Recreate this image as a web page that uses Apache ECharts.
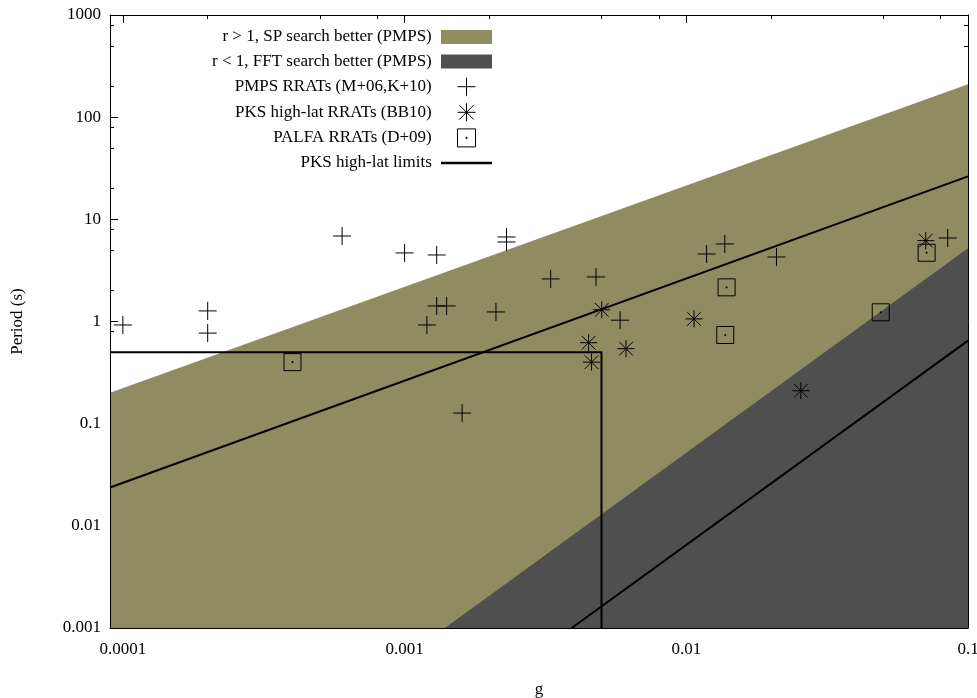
<!DOCTYPE html>
<html>
<head>
<meta charset="utf-8">
<script src="https://cdn.jsdelivr.net/npm/echarts@6/dist/echarts.min.js"></script>
<style>html,body{margin:0;padding:0;background:#fff}#c{width:977px;height:698px}</style>
</head>
<body>
<div id="c"></div>
<script>
// ---- data ----
const pmpsG = [1.0e-4, 2.0e-4, 2.0e-4, 6.0e-4, 1.0e-3, 1.30e-3, 1.30e-3, 1.41e-3, 1.20e-3, 1.60e-3, 2.11e-3, 2.30e-3, 2.30e-3, 3.30e-3, 4.78e-3, 5.82e-3, 1.18e-2, 1.37e-2, 2.09e-2, 8.47e-2];
const pmpsP = [0.925, 1.27, 0.77, 6.87, 4.69, 4.48, 1.42, 1.42, 0.925, 0.127, 1.24, 6.72, 6.0, 2.61, 2.73, 1.03, 4.58, 5.74, 4.28, 6.57];
const pksG = [5.01e-3, 4.50e-3, 4.61e-3, 6.11e-3, 1.065e-2, 2.55e-2, 7.08e-2];
const pksP = [1.30, 0.62, 0.40, 0.542, 1.06, 0.21, 6.19];
const palfaG = [4.0e-4, 1.39e-2, 1.375e-2, 4.90e-2, 7.13e-2];
const palfaP = [0.40, 2.16, 0.738, 1.23, 4.71];
// shaded regions (upper boundaries)
const spG = [9e-5, 0.1];
const spP = [0.201, 210];
const fftG = [1.39e-3, 0.1];
const fftP = [0.001, 5.2];
// PKS high-lat limits
const limAG = [9e-5, 0.1];
const limAP = [0.0237, 26.3];
const limBG = [3.92e-3, 0.1];
const limBP = [0.001, 0.65];
const limCG = [9e-5, 0.005, 0.005];
const limCP = [0.5, 0.5, 0.001];
// ticks
const xMajor = [1e-4, 1e-3, 1e-2, 1e-1];
const xMajorLabels = ['0.0001', '0.001', '0.01', '0.1'];
const xMinor = [2e-4, 5e-4, 8e-4, 2e-3, 5e-3, 8e-3, 2e-2, 5e-2, 8e-2];
const yMajor = [1e-3, 1e-2, 1e-1, 1, 10, 100, 1000];
const yMajorLabels = ['0.001', '0.01', '0.1', '1', '10', '100', '1000'];
const yMinor = [2e-3, 5e-3, 8e-3, 2e-2, 5e-2, 8e-2, 0.2, 0.5, 0.8, 2, 5, 8, 20, 50, 80, 200, 500, 800];

const names = {
  sp: 'r > 1, SP search better (PMPS)',
  fft: 'r < 1, FFT search better (PMPS)',
  pmps: 'PMPS RRATs (M+06,K+10)',
  pks: 'PKS high-lat RRATs (BB10)',
  palfa: 'PALFA RRATs (D+09)',
  lim: 'PKS high-lat limits'
};

const FONT = 'Liberation Serif';
const OLIVE = '#8f8c62';
const DARK = '#4f4f4f';
const CROSS = 'path://M0,9H18M9,0V18';
const STAR = 'path://M0,8.5H17M8.5,0V17M1.7,1.7L15.3,15.3M1.7,15.3L15.3,1.7';
const SQUARE = 'path://M0,0H17V17H0ZM8,8H9V9H8Z';

const zip = (a, b) => a.map((v, i) => [v, b[i]]);

function lookup(vals, labels) {
  return v => { for (let i = 0; i < vals.length; i++) { if (Math.abs(Math.log10(v) - Math.log10(vals[i])) < 1e-6) return labels[i]; } return ''; };
}

const XMIN = 9e-5, XMAX = 0.1, YMIN = 0.001, YMAX = 1000;
const black = '#000';

function xAx(pos, opts) {
  return Object.assign({
    type: 'log', min: XMIN, max: XMAX, position: pos, logBase: 10,
    axisLine: { show: false }, axisTick: { show: false }, axisLabel: { show: false },
    splitLine: { show: false }, minorTick: { show: false }, minorSplitLine: { show: false }, z: 0
  }, opts);
}
function yAx(pos, opts) {
  return Object.assign({
    type: 'log', min: YMIN, max: YMAX, position: pos, logBase: 10,
    axisLine: { show: false }, axisTick: { show: false }, axisLabel: { show: false },
    splitLine: { show: false }, minorTick: { show: false }, minorSplitLine: { show: false }, z: 0
  }, opts);
}
const lineFrame = { show: true, lineStyle: { color: black, width: 1 } };

const option = {
  animation: false,
  backgroundColor: '#fff',
  grid: { left: 110, right: 9, top: 15, bottom: 70, containLabel: false, outerBoundsMode: 'none' },
  xAxis: [
    xAx('bottom', {
      axisLine: lineFrame, z: 5,
      name: 'g', nameLocation: 'middle', nameGap: 53,
      nameTextStyle: { fontFamily: FONT, fontSize: 17, color: black },
      axisLabel: { show: true, customValues: xMajor, formatter: lookup(xMajor, xMajorLabels), fontFamily: FONT, fontSize: 17, color: black, margin: 13 }
    }),
    xAx('top', { axisLine: lineFrame, z: 5 }),
    xAx('bottom', { axisTick: { show: true, inside: true, length: 8, customValues: xMajor, lineStyle: { color: black } } }),
    xAx('bottom', { axisTick: { show: true, inside: true, length: 4, customValues: xMinor, lineStyle: { color: black } } }),
    xAx('top', { axisTick: { show: true, inside: true, length: 8, customValues: xMajor, lineStyle: { color: black } } }),
    xAx('top', { axisTick: { show: true, inside: true, length: 4, customValues: xMinor, lineStyle: { color: black } } })
  ],
  yAxis: [
    yAx('left', {
      axisLine: lineFrame, z: 5,
      name: 'Period (s)', nameLocation: 'middle', nameGap: 84, nameRotate: 90,
      nameTextStyle: { fontFamily: FONT, fontSize: 17, color: black },
      axisLabel: { show: true, customValues: yMajor, formatter: lookup(yMajor, yMajorLabels), fontFamily: FONT, fontSize: 17, color: black, margin: 9 }
    }),
    yAx('right', { axisLine: lineFrame, z: 5 }),
    yAx('left', { axisTick: { show: true, inside: true, length: 8, customValues: yMajor, lineStyle: { color: black } } }),
    yAx('left', { axisTick: { show: true, inside: true, length: 4, customValues: yMinor, lineStyle: { color: black } } }),
    yAx('right', { axisTick: { show: true, inside: true, length: 8, customValues: yMajor, lineStyle: { color: black } } }),
    yAx('right', { axisTick: { show: true, inside: true, length: 4, customValues: yMinor, lineStyle: { color: black } } })
  ],
  legend: {
    orient: 'vertical', align: 'right', right: 485, top: 28, padding: 0,
    itemWidth: 51, itemHeight: 18, itemGap: 6.6, selectedMode: false, symbolKeepAspect: true,
    formatter: n => n + ' ',
    textStyle: { fontFamily: FONT, fontSize: 17, color: black, lineHeight: 18 },
    data: [
      { name: names.sp, icon: 'path://M0,0H51V14H0Z', itemStyle: { color: OLIVE, borderWidth: 0 } },
      { name: names.fft, icon: 'path://M0,0H51V14H0Z', itemStyle: { color: DARK, borderWidth: 0 } },
      { name: names.pmps, icon: CROSS, itemStyle: { color: 'rgba(0,0,0,0)', borderColor: black, borderWidth: 1 } },
      { name: names.pks, icon: STAR, itemStyle: { color: 'rgba(0,0,0,0)', borderColor: black, borderWidth: 1 } },
      { name: names.palfa, icon: SQUARE, itemStyle: { color: 'rgba(0,0,0,0)', borderColor: black, borderWidth: 1 } },
      { name: names.lim, icon: 'path://M0,0H48V2.2H0Z', itemStyle: { color: black, borderWidth: 0 } }
    ]
  },
  series: [
    { type: 'line', name: names.sp, data: zip(spG, spP), symbol: 'none', silent: true,
      lineStyle: { width: 0 }, itemStyle: { color: OLIVE }, areaStyle: { color: OLIVE, opacity: 1, origin: 'start' }, z: 1 },
    { type: 'line', name: names.fft, data: zip(fftG, fftP), symbol: 'none', silent: true,
      lineStyle: { width: 0 }, itemStyle: { color: DARK }, areaStyle: { color: DARK, opacity: 1, origin: 'start' }, z: 1 },
    { type: 'line', name: names.lim, data: zip(limAG, limAP), symbol: 'none', silent: true,
      lineStyle: { color: black, width: 2 }, itemStyle: { color: black }, z: 3 },
    { type: 'line', name: names.lim, data: zip(limBG, limBP), symbol: 'none', silent: true,
      lineStyle: { color: black, width: 2 }, itemStyle: { color: black }, z: 3 },
    { type: 'line', name: names.lim, data: zip(limCG, limCP), symbol: 'none', silent: true,
      lineStyle: { color: black, width: 2, join: 'miter' }, itemStyle: { color: black }, z: 3 },
    { type: 'scatter', name: names.pmps, data: zip(pmpsG, pmpsP), symbol: CROSS, symbolSize: 18, silent: true,
      itemStyle: { color: 'rgba(0,0,0,0)', borderColor: black, borderWidth: 1, opacity: 1 }, z: 6 },
    { type: 'scatter', name: names.pks, data: zip(pksG, pksP), symbol: STAR, symbolSize: 17, silent: true,
      itemStyle: { color: 'rgba(0,0,0,0)', borderColor: black, borderWidth: 1, opacity: 1 }, z: 6 },
    { type: 'scatter', name: names.palfa, data: zip(palfaG, palfaP), symbol: SQUARE, symbolSize: 17, silent: true,
      itemStyle: { color: 'rgba(0,0,0,0)', borderColor: black, borderWidth: 1, opacity: 1 }, z: 6 }
  ]
};

const chart = echarts.init(document.getElementById('c'), null, { renderer: 'canvas' });
chart.setOption(option);
</script>
</body>
</html>
